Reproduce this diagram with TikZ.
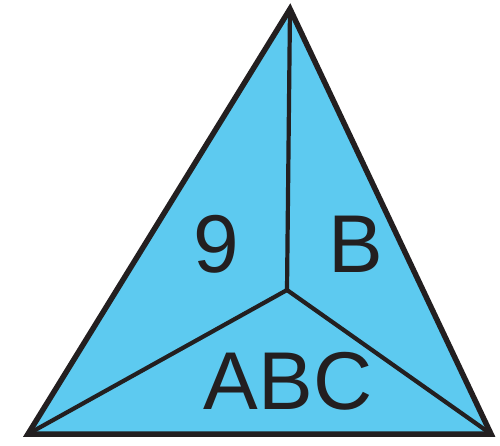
\documentclass[tikz,border=0pt]{standalone}
\usepackage{fontspec}
\setmainfont{Liberation Sans}
\usepackage{xcolor}
\usepackage{tikz}
\usetikzlibrary{positioning}
\definecolor{paneblue}{HTML}{5DCAF0}
\definecolor{edgeink}{HTML}{231F20}

\begin{document}
\begin{tikzpicture}[x=1pt,y=-1pt,
        edge/.style={draw=edgeink,line width=5.5pt,line join=miter},
        spoke/.style={draw=edgeink,line width=4.2pt,line cap=round},
        lbl/.style={text=edgeink,font=\fontsize{82}{82}\selectfont,inner sep=0pt}]
        \useasboundingbox (0,0) rectangle (500,445);
        \coordinate (top) at (290,9);
        \coordinate (left) at (28,434);
        \coordinate (right) at (491,434);
        \coordinate (mid) at (287,290);
        \draw[edge,fill=paneblue] (top) -- (left) -- (right) -- cycle;
        \foreach \v in {top,left,right}
          \draw[spoke] (mid) -- (\v);
        \node[lbl] (nine) at (216,244) {9};
        \node[lbl] (bee) at (356,244) {B};
        \node[lbl] (abc) at (288,381) {ABC};
      \end{tikzpicture}
\end{document}
